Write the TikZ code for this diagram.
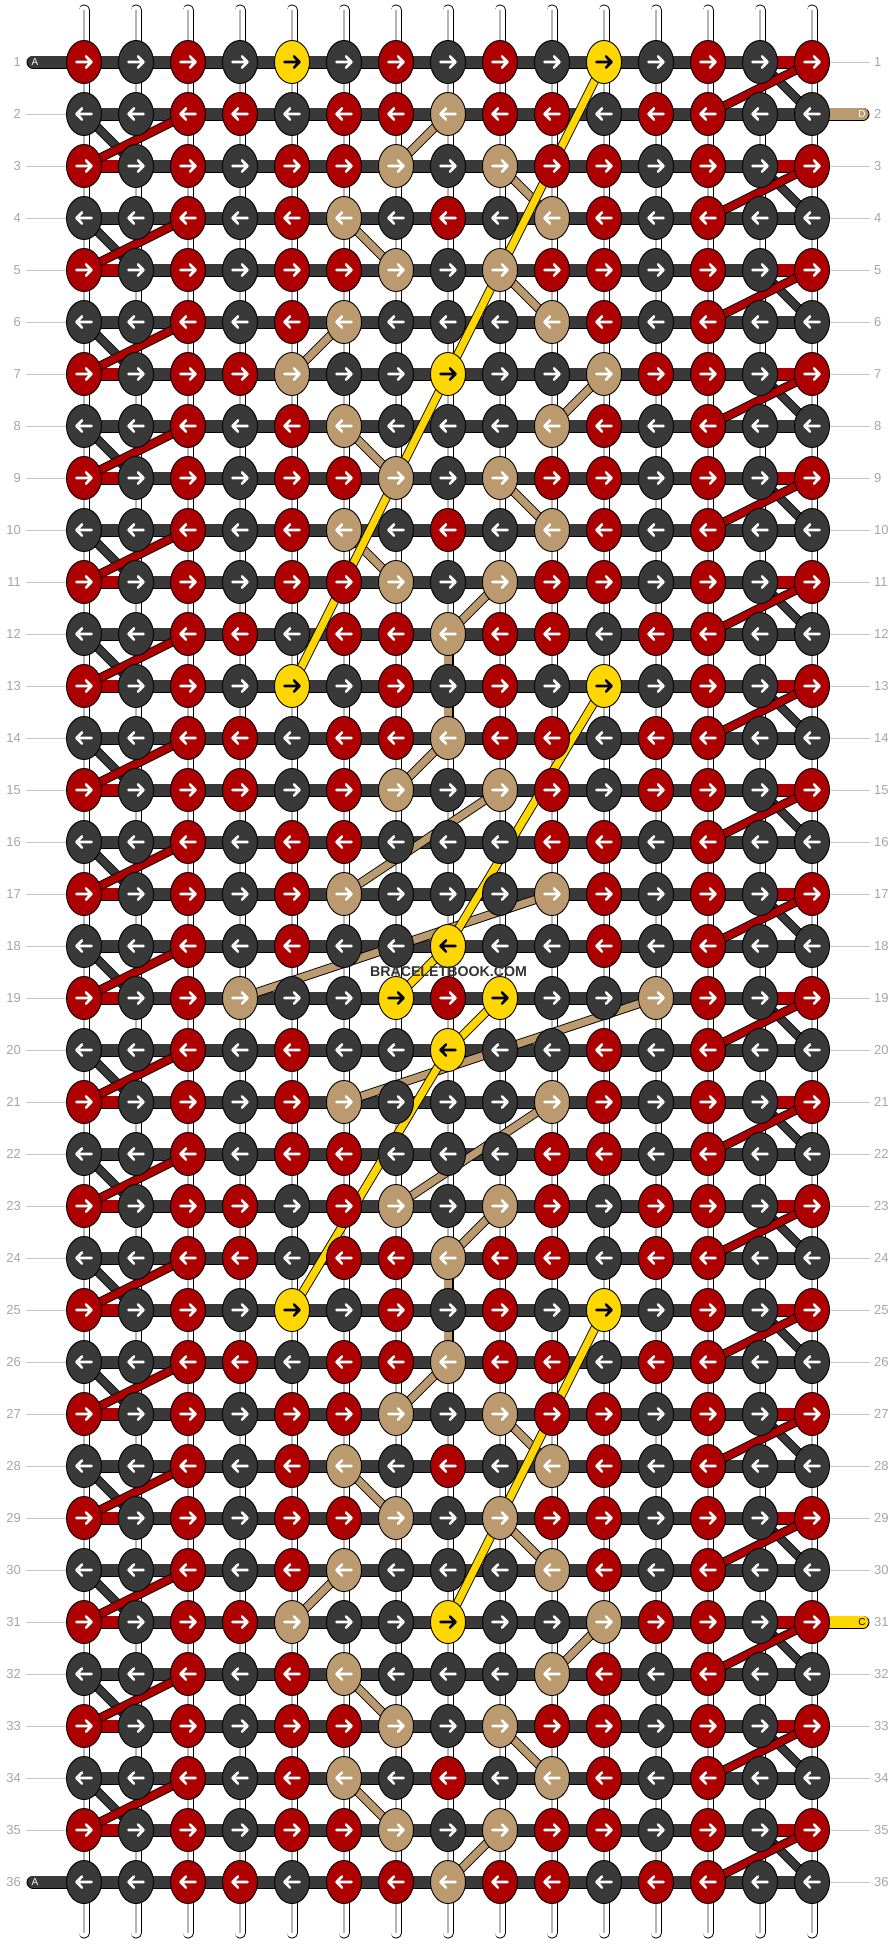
\documentclass[tikz,border=0pt]{standalone}
\usepackage{fontspec}
\setmainfont{Liberation Sans}
\usetikzlibrary{shapes.geometric}
\definecolor{kR}{HTML}{AE0000}
\definecolor{kD}{HTML}{393939}
\definecolor{kT}{HTML}{BC9A70}
\definecolor{kY}{HTML}{FFD700}
\colorlet{aR}{white}
\colorlet{aD}{white}
\colorlet{aT}{white}
\colorlet{aY}{black}
\definecolor{numgray}{HTML}{A6A6A6}
\definecolor{rulegray}{HTML}{C8C8C8}
\definecolor{wmark}{HTML}{333333}
\definecolor{midgray}{HTML}{B4B4B4}

\def\RowA{R,D,R,D,Y,D,R,D,R,D,Y,D,R,D,R}
\def\RowB{D,D,R,R,D,R,R,T,R,R,D,R,R,D,D}
\def\RowC{R,D,R,D,R,R,T,D,T,R,R,D,R,D,R}
\def\RowD{D,D,R,D,R,T,D,R,D,T,R,D,R,D,D}
\def\RowE{D,D,R,D,R,T,D,D,D,T,R,D,R,D,D}
\def\RowF{R,D,R,R,T,D,D,Y,D,D,T,R,R,D,R}
\def\RowG{R,D,R,R,D,R,T,D,T,R,D,R,R,D,R}
\def\RowH{D,D,R,D,R,R,D,D,D,R,R,D,R,D,D}
\def\RowI{R,D,R,D,R,T,D,D,D,T,R,D,R,D,R}
\def\RowJ{D,D,R,D,R,D,D,Y,D,D,R,D,R,D,D}
\def\RowK{R,D,R,T,D,D,Y,R,Y,D,D,T,R,D,R}

\begin{document}
\begin{tikzpicture}[x=1pt,y=-1pt,
  knot/.style={ellipse,draw=black,line width=0.9pt,minimum width=35pt,minimum height=43pt,inner sep=0pt},
  kArrow/.style={line width=2.6pt,line cap=round,line join=round},
  wOut/.style={line width=11pt,line cap=round,draw=black},
  wIn/.style={line width=9.2pt,line cap=round,draw=white},
  wMid/.style={line width=1.1pt,draw=midgray},
  barOut/.style={line width=13pt,draw=black},
  barIn/.style={line width=11.2pt},
  capOut/.style={line width=13pt,draw=black,line cap=round},
  capIn/.style={line width=11.2pt,line cap=round},
  dOut/.style={line width=9pt,draw=black,line join=round},
  dIn/.style={line width=7.2pt,line join=round},
  num/.style={text=numgray,font=\fontsize{13}{13}\selectfont,inner sep=0pt},
  gline/.style={draw=rulegray,line width=1pt},
  tag/.style={font=\fontsize{10}{10}\selectfont,inner sep=0pt}
]
\useasboundingbox (0,0) rectangle (896,1944);
\fill[white] (0,0) rectangle (896,1944);

% grid coordinates
\foreach \r in {1,...,36}{\foreach \c in {0,...,14}{\coordinate (p-\r-\c) at ({84+52*\c},{62+52*(\r-1)});}}

% warp strings
\foreach \c in {0,...,14}{
  \coordinate (wt-\c) at ({84+52*\c},10);
  \coordinate (wb-\c) at ({84+52*\c},1933);
  \draw[wOut] (wt-\c) -- (wb-\c);
  \draw[wIn] (wt-\c) -- (wb-\c);
  \draw[wMid] (wt-\c) -- (wb-\c);
}

% string ends A, D, C
\coordinate (aTop) at (33,62);
\coordinate (aBot) at (33,1882);
\coordinate (dEnd) at (863,114);
\coordinate (cEnd) at (863,1622);
\draw[capOut] (aTop) -- (p-1-0);  \draw[capIn,draw=kD] (aTop) -- (p-1-0);
\draw[capOut] (aBot) -- (p-36-0); \draw[capIn,draw=kD] (aBot) -- (p-36-0);
\draw[capOut] (p-2-14) -- (dEnd);  \draw[capIn,draw=kT] (p-2-14) -- (dEnd);
\draw[capOut] (p-31-14) -- (cEnd); \draw[capIn,draw=kY] (p-31-14) -- (cEnd);

% weft bars
\foreach \r in {1,...,36}{
  \draw[barOut] (p-\r-0) -- (p-\r-14);
  \draw[barIn,draw=kD] (p-\r-0) -- (p-\r-14);
}

% left turns
\foreach \r in {2,4,...,34}{
  \pgfmathtruncatemacro\rn{\r+1}
  \draw[barOut] (p-\rn-0) -- (p-\rn-1);
  \draw[barIn,draw=kR] (p-\rn-0) -- (p-\rn-1);
  \draw[dOut] (p-\r-0) -- (p-\rn-1);
  \draw[dIn,draw=kD] (p-\r-0) -- (p-\rn-1);
  \draw[dOut] (p-\r-2) -- (p-\rn-0);
  \draw[dIn,draw=kR] (p-\r-2) -- (p-\rn-0);
}
% right turns
\foreach \r in {1,3,...,35}{
  \pgfmathtruncatemacro\rn{\r+1}
  \draw[barOut] (p-\r-13) -- (p-\r-14);
  \draw[barIn,draw=kR] (p-\r-13) -- (p-\r-14);
  \draw[dOut] (p-\r-13) -- (p-\rn-14);
  \draw[dIn,draw=kD] (p-\r-13) -- (p-\rn-14);
  \draw[dOut] (p-\r-14) -- (p-\rn-12);
  \draw[dIn,draw=kR] (p-\r-14) -- (p-\rn-12);
}

% tan string path
\foreach \ra/\ca/\rb/\cb in {2/7/3/6, 3/8/4/9, 4/5/5/6, 5/8/6/9, 6/5/7/4, 7/10/8/9, 8/5/9/6, 9/8/10/9, 10/5/11/6, 11/8/12/7, 12/7/14/7,
  14/7/15/6, 15/8/17/5, 17/9/19/3, 19/11/21/5, 21/9/23/6, 23/8/24/7, 24/7/26/7,
  26/7/27/6, 27/8/28/9, 28/5/29/6, 29/8/30/9, 30/5/31/4, 31/10/32/9, 32/5/33/6, 33/8/34/9, 34/5/35/6, 35/8/36/7}{
  \draw[dOut] (p-\ra-\ca) -- (p-\rb-\cb);
  \draw[dIn,draw=kT] (p-\ra-\ca) -- (p-\rb-\cb);
}
% yellow string path
\foreach \ra/\ca/\rb/\cb in {1/10/7/7, 7/7/13/4, 13/10/18/7, 18/7/19/6, 19/8/20/7, 20/7/25/4, 25/10/31/7}{
  \draw[dOut] (p-\ra-\ca) -- (p-\rb-\cb);
  \draw[dIn,draw=kY] (p-\ra-\ca) -- (p-\rb-\cb);
}

% knots
\foreach \r/\pat in {1/\RowA,2/\RowB,3/\RowC,4/\RowD,5/\RowC,6/\RowE,7/\RowF,8/\RowE,9/\RowC,10/\RowD,11/\RowC,12/\RowB,
  13/\RowA,14/\RowB,15/\RowG,16/\RowH,17/\RowI,18/\RowJ,19/\RowK,20/\RowJ,21/\RowI,22/\RowH,23/\RowG,24/\RowB,
  25/\RowA,26/\RowB,27/\RowC,28/\RowD,29/\RowC,30/\RowE,31/\RowF,32/\RowE,33/\RowC,34/\RowD,35/\RowC,36/\RowB}{
  \edef\rowlist{\pat}
  \pgfmathtruncatemacro\dir{1-2*mod(\r+1,2)}
  \foreach \k [count=\i from 0] in \rowlist {
    \node[knot,fill=k\k] (k-\r-\i) at (p-\r-\i) {};
    \draw[kArrow,draw=a\k,shift={({84+52*\i},{62+52*(\r-1)})},xscale=\dir]
      (-7.5,0) -- (7.5,0) (2,-5.6) -- (7.5,0) -- (2,5.6);
  }
}

% row numbers and rules
\foreach \r in {1,...,36}{
  \node[num,anchor=east] (ln-\r) at (21,{62+52*(\r-1)}) {\r};
  \node[num,anchor=west] (rn-\r) at (874,{62+52*(\r-1)}) {\r};
}
\foreach \r in {2,...,35}{
  \coordinate (lg-\r) at (26,{62+52*(\r-1)});
  \draw[gline] (lg-\r) -- (k-\r-0);
}
\foreach \r in {1,3,4,5,6,7,8,9,10,11,12,13,14,15,16,17,18,19,20,21,22,23,24,25,26,27,28,29,30,32,33,34,35,36}{
  \coordinate (rg-\r) at (870,{62+52*(\r-1)});
  \draw[gline] (k-\r-14) -- (rg-\r);
}

% string tags
\node[tag,text=white] (tagA1) at (35,62) {A};
\node[tag,text=white] (tagA2) at (35,1882) {A};
\node[tag,text=white] (tagD) at (862,114) {D};
\node[tag,text=black] (tagC) at (862,1622) {C};

% watermark
\node[font=\bfseries\fontsize{14.2}{14.2}\selectfont,text=wmark,inner sep=0pt] (wm) at (448.5,972) {BRACELETBOOK.COM};
\end{tikzpicture}
\end{document}
